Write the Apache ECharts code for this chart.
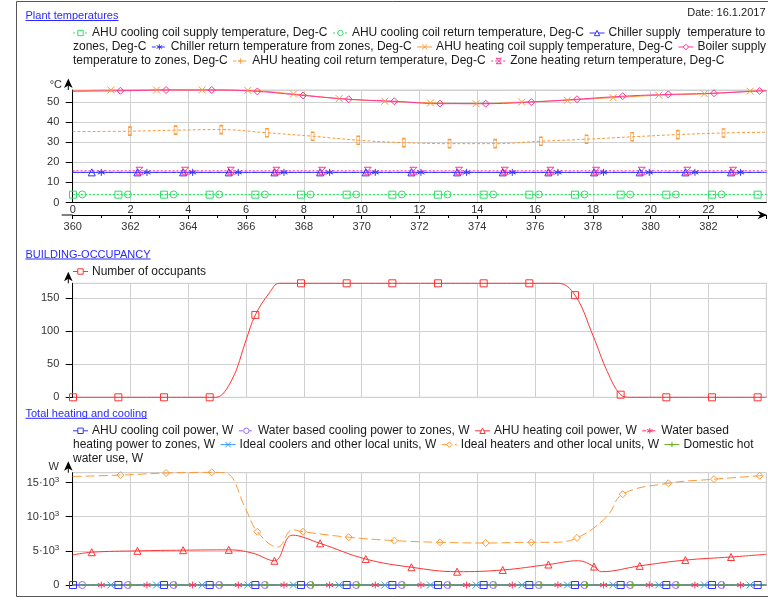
<!DOCTYPE html>
<html><head><meta charset="utf-8">
<script src="https://cdn.jsdelivr.net/npm/echarts@6/dist/echarts.min.js"></script>
<style>html,body{margin:0;padding:0;background:#fff}#c{width:768px;height:600px}</style>
</head><body><div id="c"></div>
<script>
const FONT = '"Liberation Sans", Arial, sans-serif';

// ---------- marker sample times (hours of day) ----------
const markT0 = [0.01,1.58,3.16,4.74,6.32,7.90,9.48,11.06,12.64,14.22,15.80,17.38,18.96,20.54,22.12,23.70];
const markT1 = [0.33,1.91,3.49,5.07,6.65,8.23,9.81,11.39,12.97,14.55,16.13,17.71,19.29,20.87,22.45];
const markT2 = [0.66,2.24,3.82,5.40,6.98,8.56,10.14,11.72,13.30,14.88,16.46,18.04,19.62,21.20,22.78];
const markT3 = [0.99,2.57,4.15,5.73,7.31,8.89,10.47,12.05,13.63,15.21,16.79,18.37,19.95,21.53,23.11];
const markT4 = [1.32,2.90,4.48,6.06,7.64,9.22,10.80,12.38,13.96,15.54,17.12,18.70,20.28,21.86,23.44];
const markT5 = [1.65,3.23,4.81,6.39,7.97,9.55,11.13,12.71,14.29,15.87,17.45,19.03,20.61,22.19,23.77];
const markT6 = [1.98,3.56,5.14,6.72,8.30,9.88,11.46,13.04,14.62,16.20,17.78,19.36,20.94,22.52];
const markT7 = [2.31,3.89,5.47,7.05,8.63,10.21,11.79,13.37,14.95,16.53,18.11,19.69,21.27,22.85];

// ---------- Plant temperatures (Deg-C) ----------
const coolSupplyV   = [3.9,3.9,3.9,3.9,3.9,3.9,3.9,3.9,3.9,3.9,3.9,3.9,3.9,3.9,3.9,3.9];
const coolSupplyLT  = [24];             const coolSupplyLV  = [3.9];
const coolReturnV   = [4,4,4,4,4,4,4,4,4,4,4,4,4,4,4];
const coolReturnLT  = [0,24];           const coolReturnLV  = [4,4];
const chillSupplyV  = [15,15,15,15,15,15,15,15,15,15,15,15,15,15,15];
const chillSupplyLT = [0,24];           const chillSupplyLV = [15,15];
const chillReturnV  = [15,15,15,15,15,15,15,15,15,15,15,15,15,15,15];
const chillReturnLT = [0,24];           const chillReturnLV = [15,15];
const ahuHeatSupV   = [56,56,56,55.8,54,51.7,50.4,49.6,49.2,50,50.9,52.2,53.4,54.1,55.4];
const ahuHeatSupLT  = [0,24];           const ahuHeatSupLV  = [55.5,55.6];
const boilerSupV    = [55.6,56,56,55.3,53.3,51.4,50.4,49.2,49.2,50,51.4,52.9,53.8,54.4,55.5];
const boilerSupLT   = [0,24];           const boilerSupLV   = [55.4,55.6];
const ahuHeatRetV   = [35.5,36,36.3,34.7,33,31,29.8,29.3,29.3,30.5,31.5,32.7,33.8,34.6];
const ahuHeatRetLT  = [0,24];           const ahuHeatRetLV  = [35.3,35];
const zoneHeatRetV  = [15.8,15.8,15.8,15.8,15.8,15.8,15.8,15.8,15.8,15.8,15.8,15.8,15.8,15.8];
const zoneHeatRetLT = [0,24];           const zoneHeatRetLV = [15.8,15.8];

// ---------- Building occupancy ----------
const occV  = [0,0,0,0,125,173,173,173,173,173,173,155,4,0,0,0];
const occLT = [4.95,5.5,6.0,6.8,7.15,16.8,18.0,18.5,19.3,24];
const occLV = [0,26,87,158,173,173,94,39,0,0];

// ---------- Total heating and cooling (W) ----------
const ahuCoolPowV  = [0,0,0,0,0,0,0,0,0,0,0,0,0,0,0,0];
const ahuCoolPowLT = [24];              const ahuCoolPowLV = [0];
const waterCoolV   = [0,0,0,0,0,0,0,0,0,0,0,0,0,0,0];
const waterCoolLT  = [0,24];            const waterCoolLV  = [0,0];
const ahuHeatPowV  = [4800,5000,5100,5150,3550,6100,3800,2600,1950,2200,3000,2700,2800,3650,4100];
const ahuHeatPowLT = [0,6.2,7.6,17.5,18.3,24];
const ahuHeatPowLV = [4400,4700,7300,3550,1950,4500];
const waterHeatV   = [0,0,0,0,0,0,0,0,0,0,0,0,0,0,0];
const waterHeatLT  = [0,24];            const waterHeatLV  = [0,0];
const idealCoolV   = [0,0,0,0,0,0,0,0,0,0,0,0,0,0,0];
const idealCoolLT  = [0,24];            const idealCoolLV  = [0,0];
const idealHeatV   = [16100,16400,16500,7800,7800,7000,6500,6250,6150,6250,6900,13300,14900,15500,16000];
const idealHeatLT  = [0,5.3,6.0,7.1,7.6,16.6,18.48,24];
const idealHeatLV  = [15900,16400,11000,5550,8100,6250,10000,16050];
const dhwV         = [0,0,0,0,0,0,0,0,0,0,0,0,0,0];
const dhwLT        = [0,24];            const dhwLV        = [0,0];

// ---------- axis ticks ----------
const hourMin = 0, hourMax = 24, hourStep = 2;
const yearHourMin = 360, yearHourMax = 384;

// ---------- styling helpers ----------
const SYM = {
  square:'M0,0H10V10H0Z',
  circle:'M0,5A5,5 0 1 1 10,5A5,5 0 1 1 0,5Z',
  triangle:'M5,0L10,10H0Z',
  diamond:'M5,0L10,5L5,10L0,5Z',
  cross:'M0,0L10,10M10,0L0,10',
  plus:'M5,0V10M0,5H10',
  star:'M5,0V10M0.67,2.5L9.33,7.5M9.33,2.5L0.67,7.5',
  hourglass:'M0,0H10L0,10H10Z',
  bar:'M0,0H10V10H0Z'
};

const panels = [
  {top:90,    bottom:202.5, max:56,    interval:10},
  {top:283.3, bottom:397.3, max:173,   interval:50},
  {top:472.7, bottom:585,   max:16450, interval:5000}
];

const topDefs = [
  {name:'AHU cooling coil supply temperature, Deg-C', color:'#33dd66', dash:[2,2], sym:'square', t:markT0, v:coolSupplyV, lt:coolSupplyLT, lv:coolSupplyLV},
  {name:'AHU cooling coil return temperature, Deg-C', color:'#33dd66', dash:[2,2], sym:'circle', t:markT1, v:coolReturnV, lt:coolReturnLT, lv:coolReturnLV},
  {name:'Chiller supply  temperature to zones, Deg-C', color:'#3333ff', dash:'solid', sym:'triangle', t:markT2, v:chillSupplyV, lt:chillSupplyLT, lv:chillSupplyLV},
  {name:'Chiller return temperature from zones, Deg-C', color:'#3333ff', dash:[4,2,1,2], sym:'star', t:markT3, v:chillReturnV, lt:chillReturnLT, lv:chillReturnLV},
  {name:'AHU heating coil supply temperature, Deg-C', color:'#ff9933', dash:'solid', sym:'cross', t:markT4, v:ahuHeatSupV, lt:ahuHeatSupLT, lv:ahuHeatSupLV},
  {name:'Boiler supply temperature to zones, Deg-C', color:'#ff3399', dash:'solid', sym:'diamond', t:markT5, v:boilerSupV, lt:boilerSupLT, lv:boilerSupLV},
  {name:'AHU heating coil return temperature, Deg-C', color:'#ff9933', dash:[3,2], sym:'bar', lsym:'plus', size:[3,8], t:markT6, v:ahuHeatRetV, lt:ahuHeatRetLT, lv:ahuHeatRetLV},
  {name:'Zone heating return temperature, Deg-C', color:'#ff3399', dash:[2,2], sym:'hourglass', t:markT7, v:zoneHeatRetV, lt:zoneHeatRetLT, lv:zoneHeatRetLV}
];
const midDefs = [
  {name:'Number of occupants', color:'#ff3333', dash:'solid', sym:'square', t:markT0, v:occV, lt:occLT, lv:occLV}
];
const botDefs = [
  {name:'AHU cooling coil power, W', color:'#3333ff', dash:'solid', sym:'square', t:markT0, v:ahuCoolPowV, lt:ahuCoolPowLT, lv:ahuCoolPowLV},
  {name:'Water based cooling power to zones, W', color:'#9966ff', dash:[4,2,1,2], sym:'circle', t:markT1, v:waterCoolV, lt:waterCoolLT, lv:waterCoolLV},
  {name:'AHU heating coil power, W', color:'#ff3333', dash:'solid', sym:'triangle', t:markT2, v:ahuHeatPowV, lt:ahuHeatPowLT, lv:ahuHeatPowLV},
  {name:'Water based heating power to zones, W', color:'#ff3366', dash:[4,2,1,2], sym:'star', t:markT3, v:waterHeatV, lt:waterHeatLT, lv:waterHeatLV},
  {name:'Ideal coolers and other local units, W', color:'#3399ff', dash:'solid', sym:'cross', t:markT4, v:idealCoolV, lt:idealCoolLT, lv:idealCoolLV},
  {name:'Ideal heaters and other local units, W', color:'#ff9933', dash:[9,4], sym:'diamond', t:markT5, v:idealHeatV, lt:idealHeatLT, lv:idealHeatLV},
  {name:'Domestic hot water use, W', color:'#66aa22', dash:'solid', sym:'plus', t:markT6, v:dhwV, lt:dhwLT, lv:dhwLV}
];

function buildSeries(def, xi, yi) {
  const pts = [];
  def.t.forEach((t, i) => pts.push({value:[t, def.v[i]]}));
  def.lt.forEach((t, i) => pts.push({value:[t, def.lv[i]], symbol:'none'}));
  pts.sort((a, b) => a.value[0] - b.value[0]);
  return {
    type:'line', name:def.name, xAxisIndex:xi, yAxisIndex:yi, data:pts,
    smooth:0.4, clip:false,
    symbol:'path://' + SYM[def.sym], symbolSize:def.size || 7, showAllSymbol:true,
    lineStyle:{color:def.color, width:1, type:def.dash},
    itemStyle:{color:'rgba(255,255,255,0)', borderColor:def.color, borderWidth:1},
    emphasis:{disabled:true}, silent:true
  };
}

const series = [];
topDefs.forEach(d => series.push(buildSeries(d, 0, 0)));
midDefs.forEach(d => series.push(buildSeries(d, 2, 1)));
botDefs.forEach(d => series.push(buildSeries(d, 3, 2)));

// ---------- graphics: legends, titles, frame ----------
const cv = document.createElement('canvas').getContext('2d');
function tw(txt, size) { cv.font = size + 'px "Liberation Sans"'; return cv.measureText(txt).width; }
const G = [];
function txt(s, x, y, size, fill, align) {
  G.push({type:'text', x:x, y:y, z:100, silent:true,
    style:{text:s, font:size + 'px "Liberation Sans"', fill:fill || '#1a1a1a', align:align || 'left', verticalAlign:'middle', textAlign:align || 'left', textVerticalAlign:'middle'}});
}
function seg(x1, y1, x2, y2, c, z) {
  G.push({type:'line', z:z || 101, silent:true, shape:{x1, y1, x2, y2}, style:{stroke:c, lineWidth:1}});
}
function marker(sym, cx, cy, c) {
  const r = 2.7;
  const st = {fill:'#fff', stroke:c, lineWidth:1};
  if (sym === 'square') G.push({type:'rect', z:101, silent:true, shape:{x:cx - r, y:cy - r, width:2 * r, height:2 * r}, style:st});
  else if (sym === 'circle') G.push({type:'circle', z:101, silent:true, shape:{cx, cy, r}, style:st});
  else if (sym === 'triangle') G.push({type:'polygon', z:101, silent:true, shape:{points:[[cx, cy - r], [cx + r, cy + r], [cx - r, cy + r]]}, style:st});
  else if (sym === 'diamond') G.push({type:'polygon', z:101, silent:true, shape:{points:[[cx, cy - r], [cx + r, cy], [cx, cy + r], [cx - r, cy]]}, style:st});
  else if (sym === 'hourglass') G.push({type:'polygon', z:101, silent:true, shape:{points:[[cx - r, cy - r], [cx + r, cy - r], [cx - r, cy + r], [cx + r, cy + r]]}, style:st});
  else if (sym === 'cross') { seg(cx - r, cy - r, cx + r, cy + r, c); seg(cx + r, cy - r, cx - r, cy + r, c); }
  else if (sym === 'plus') { seg(cx, cy - r, cx, cy + r, c); seg(cx - r, cy, cx + r, cy, c); }
  else if (sym === 'star') { seg(cx, cy - r, cx, cy + r, c); seg(cx - r, cy - r * 0.5, cx + r, cy + r * 0.5, c); seg(cx + r, cy - r * 0.5, cx - r, cy + r * 0.5, c); }
}
function icon(def, x, y) {
  G.push({type:'line', z:100, silent:true, shape:{x1:x, y1:y, x2:x + 15, y2:y},
    style:{stroke:def.color, lineWidth:1, lineDash:Array.isArray(def.dash) ? def.dash : null}});
  marker(def.lsym || def.sym, x + 7.5, y, def.color);
}
function legend(defs, y0, lh) {
  const X0 = 73, XMAX = 769, GAP = 5.5, IW = 15, IG = 4, FS = 12;
  let x = X0, y = y0;
  defs.forEach((d, idx) => {
    if (idx > 0) x += GAP;
    if (x + IW > XMAX) { x = X0; y += lh; }
    icon(d, x, y);
    x += IW + IG;
    let segX = x, s = '';
    d.name.split(' ').forEach(w => {
      const cand = s === '' ? w : s + ' ' + w;
      if (s !== '' && segX + tw(cand, FS) > XMAX) {
        txt(s, segX, y, FS);
        y += lh; segX = X0; s = w;
      } else s = cand;
    });
    txt(s, segX, y, FS);
    x = segX + tw(s, FS);
  });
}
function title(s, x, y) {
  txt(s, x, y, 11, '#2a2aff');
  seg(x, y + 4.5, x + tw(s, 11), y + 4.5, '#2a2aff', 100);
}
function yArrow(gTop) {
  const ax = 68.3;
  seg(ax, gTop, ax, gTop - 6, '#000', 50);
  G.push({type:'polygon', z:50, silent:true, shape:{points:[[ax, gTop - 11.5], [ax + 4.3, gTop - 2], [ax, gTop - 4.5], [ax - 4.3, gTop - 2]]}, style:{fill:'#000'}});
}

G.push({type:'rect', z:0, silent:true, shape:{x:16.5, y:1.5, width:780, height:595}, style:{fill:'none', stroke:'#555', lineWidth:1}});
title('Plant temperatures', 25.5, 16);
txt('Date: 16.1.2017', 765.5, 12.5, 11, '#1a1a1a', 'right');
legend(topDefs, 33, 14);
title('BUILDING-OCCUPANCY', 25.5, 254.5);
legend(midDefs, 271.5, 14);
title('Total heating and cooling', 25.5, 413.8);
legend(botDefs, 430.8, 13.8);
txt('°C', 62, 84.5, 11, '#333', 'right');
txt('W', 59, 466.5, 11, '#333', 'right');
panels.forEach(p => yArrow(p.top));
// x-axis line extension and arrow (top panel)
seg(61.7, 215, 72.7, 215, '#000', 50);
G.push({type:'polygon', z:50, silent:true, shape:{points:[[767, 215], [757.5, 210.7], [760.5, 215], [757.5, 219.3]]}, style:{fill:'#000'}});

// ---------- axes ----------
const lblStyle = {fontSize:11, fontFamily:FONT, color:'#333'};
function yAx(i, fmt, rich) {
  const p = panels[i];
  const a = {type:'value', gridIndex:i, min:0, max:p.max, interval:p.interval, offset:4.4,
    axisLine:{show:true, lineStyle:{color:'#000', width:1}},
    axisTick:{show:true, length:7, lineStyle:{color:'#000'}},
    axisLabel:Object.assign({margin:9, showMaxLabel:false}, lblStyle),
    splitLine:{show:true, lineStyle:{color:'#d0d0d0', width:1}}};
  if (fmt) { a.axisLabel.formatter = fmt; a.axisLabel.rich = rich; }
  return a;
}
function xPlain(i) {
  return {type:'value', gridIndex:i, min:hourMin, max:hourMax, interval:hourStep,
    axisLine:{show:false}, axisTick:{show:false}, axisLabel:{show:false},
    splitLine:{show:true, lineStyle:{color:'#d0d0d0', width:1}}};
}

const option = {
  animation:false,
  backgroundColor:'#fff',
  grid: panels.map(p => ({left:72.7, right:1.7, top:p.top, height:p.bottom - p.top, show:true, borderColor:'#d0d0d0', borderWidth:1, backgroundColor:'transparent'})),
  xAxis:[
    {type:'value', gridIndex:0, min:hourMin, max:hourMax, interval:hourStep, position:'bottom', offset:12.5,
      axisLine:{show:true, lineStyle:{color:'#000'}}, axisTick:{show:false},
      axisLabel:Object.assign({inside:true, margin:0, backgroundColor:'#fff', padding:[0,2,0,2], showMaxLabel:false}, lblStyle),
      splitLine:{show:true, lineStyle:{color:'#d0d0d0', width:1}}},
    {type:'value', gridIndex:0, min:yearHourMin, max:yearHourMax, interval:hourStep, position:'bottom', offset:12.5,
      axisLine:{show:true, lineStyle:{color:'#000'}},
      axisTick:{show:true, length:4, lineStyle:{color:'#000'}},
      minorTick:{show:true, splitNumber:2, length:3, lineStyle:{color:'#000'}},
      axisLabel:Object.assign({margin:6, showMaxLabel:false}, lblStyle),
      splitLine:{show:false}},
    xPlain(1),
    xPlain(2)
  ],
  yAxis:[
    yAx(0),
    yAx(1),
    yAx(2, v => v === 0 ? '0' : '{a|' + (v / 1000) + '·10}{s|3}',
      {a:{fontSize:11, fontFamily:FONT, color:'#333', lineHeight:14},
       s:{fontSize:8, fontFamily:FONT, color:'#333', verticalAlign:'top', lineHeight:14}})
  ],
  series:series,
  graphic:{elements:G}
};

const chart = echarts.init(document.getElementById('c'), null, {renderer:'canvas'});
chart.setOption(option);
</script>
</body></html>
